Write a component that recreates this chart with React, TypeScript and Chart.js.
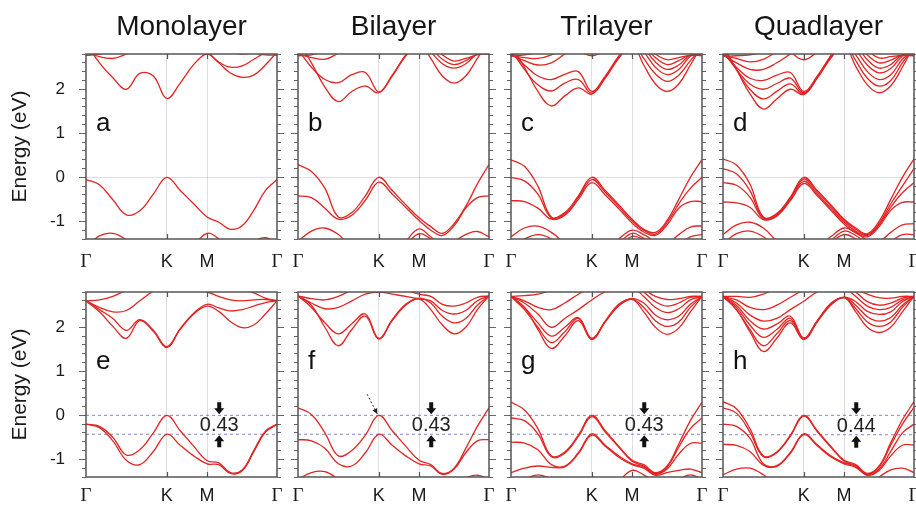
import React, { useEffect, useRef } from "react";
import { Chart, registerables } from "chart.js";

Chart.register(...registerables);
Chart.defaults.font.family = '"Liberation Sans", Arial, sans-serif';
Chart.defaults.color = "#222";

// ---------------- data ----------------
const K_POINTS = [0, 0.111, 0.222, 0.333, 0.444, 0.556, 0.667, 0.778, 0.889, 1.0, 1.096, 1.192, 1.289, 1.385, 1.481, 1.577];
const X_TICK_VALUES = [0, 0.667, 1.0, 1.577];
const X_TICK_LABELS = ["Γ", "K", "M", "Γ"];
const Y_MIN = -1.4;
const Y_MAX = 2.8;
const Y_STEP = 0.2;
const COLUMN_TITLES = ["Monolayer", "Bilayer", "Trilayer", "Quadlayer"];
const PANEL_LETTERS = ["a", "b", "c", "d", "e", "f", "g", "h"];
const GAP_VALUES = [0.43, 0.43, 0.43, 0.44];
const GAP_LABELS = ["0.43", "0.43", "0.43", "0.44"];
const GAP_MARK_K = 1.1;
const POINTER_FROM = [0.57, 0.48];
const POINTER_TO = [0.655, 0.03];

// Monolayer (top)
const BANDS_A = [
  [-0.05, -0.17, -0.51, -0.85, -0.76, -0.38, 0.0, -0.3, -0.6, -0.9, -1.02, -1.18, -1.1, -0.75, -0.3, -0.05],
  [-1.6, -1.33, -1.27, -1.42, -1.75, -2.0, -2.1, -1.9, -1.55, -1.27, -1.4, -1.7, -1.65, -1.45, -1.37, -1.5],
  [3.05, 2.6, 2.26, 2.0, 2.36, 2.3, 1.79, 2.14, 2.56, 2.8, 2.6, 2.37, 2.27, 2.32, 2.55, 2.85],
  [2.85, 2.74, 2.7, 2.8, 3.0, 3.2, 3.3, 3.2, 3.0, 2.85, 2.62, 2.5, 2.53, 2.68, 2.83, 2.95],
  [2.77, 2.8, 2.9, 3.1, 3.3, 3.4, 3.4, 3.4, 3.3, 3.1, 2.95, 2.85, 2.8, 2.82, 2.78, 2.77],
];
// Bilayer (top)
const BANDS_B = [
  [0.29, 0.13, -0.25, -0.9, -0.8, -0.42, 0.0, -0.3, -0.62, -0.92, -1.12, -1.27, -1.05, -0.66, -0.15, 0.29],
  [-0.42, -0.46, -0.7, -0.95, -0.86, -0.52, -0.11, -0.38, -0.68, -0.98, -1.2, -1.32, -1.1, -0.7, -0.46, -0.42],
  [-1.45, -1.22, -1.15, -1.3, -1.6, -1.85, -1.95, -1.75, -1.45, -1.17, -1.35, -1.52, -1.45, -1.3, -1.23, -1.35],
  [-1.7, -1.5, -1.45, -1.6, -1.9, -2.1, -2.2, -1.9, -1.55, -1.28, -1.4, -1.6, -1.7, -1.6, -1.5, -1.6],
  [3.1, 2.6, 2.05, 1.72, 1.95, 2.07, 1.92, 2.3, 2.75, 3.05, 2.7, 2.3, 2.14, 2.3, 2.7, 3.1],
  [2.9, 2.5, 2.22, 2.15, 2.33, 2.38, 1.94, 2.32, 2.78, 3.1, 2.85, 2.58, 2.48, 2.58, 2.82, 3.0],
  [2.8, 2.72, 2.68, 2.82, 3.0, 3.15, 3.2, 3.2, 3.2, 3.2, 2.95, 2.68, 2.56, 2.65, 2.8, 2.9],
  [2.76, 2.78, 2.88, 3.05, 3.2, 3.3, 3.3, 3.3, 3.3, 3.3, 3.05, 2.78, 2.64, 2.7, 2.78, 2.8],
];
// Trilayer (top)
const BANDS_C = [
  [0.4, 0.25, -0.2, -0.9, -0.8, -0.42, 0.0, -0.3, -0.62, -0.95, -1.18, -1.25, -0.98, -0.5, 0.0, 0.4],
  [0.0, -0.08, -0.38, -0.92, -0.83, -0.46, -0.05, -0.34, -0.66, -0.99, -1.2, -1.29, -1.03, -0.6, -0.25, 0.0],
  [-0.53, -0.55, -0.7, -0.95, -0.86, -0.5, -0.12, -0.4, -0.71, -1.04, -1.24, -1.32, -1.08, -0.7, -0.55, -0.55],
  [-1.35, -1.15, -1.11, -1.25, -1.5, -1.75, -1.85, -1.65, -1.4, -1.2, -1.3, -1.45, -1.5, -1.3, -1.13, -1.1],
  [-1.6, -1.4, -1.3, -1.4, -1.7, -1.9, -2.0, -1.8, -1.5, -1.27, -1.38, -1.5, -1.6, -1.5, -1.35, -1.3],
  [-1.9, -1.7, -1.55, -1.6, -1.8, -2.0, -2.1, -1.9, -1.6, -1.34, -1.42, -1.6, -1.75, -1.7, -1.55, -1.5],
  [3.0, 2.5, 1.95, 1.62, 1.85, 2.03, 1.89, 2.25, 2.7, 3.0, 2.55, 2.12, 1.95, 2.12, 2.55, 3.0],
  [2.9, 2.45, 2.1, 1.96, 2.14, 2.22, 1.91, 2.27, 2.72, 3.05, 2.7, 2.35, 2.18, 2.32, 2.65, 2.95],
  [2.82, 2.55, 2.3, 2.22, 2.34, 2.4, 1.95, 2.3, 2.75, 3.1, 2.85, 2.5, 2.33, 2.45, 2.75, 2.86],
  [2.78, 2.65, 2.55, 2.6, 2.8, 3.0, 3.1, 3.15, 3.2, 3.2, 2.95, 2.62, 2.45, 2.55, 2.78, 2.8],
  [2.76, 2.72, 2.7, 2.78, 2.95, 3.1, 3.2, 3.2, 3.2, 3.2, 3.0, 2.72, 2.56, 2.65, 2.78, 2.78],
  [2.75, 2.78, 2.85, 3.0, 3.2, 3.2, 3.2, 3.2, 3.2, 3.2, 3.05, 2.8, 2.67, 2.72, 2.77, 2.76],
  [3.3, 3.3, 3.3, 3.2, 3.05, 2.88, 2.76, 2.88, 3.05, 3.2, 3.3, 3.3, 3.3, 3.3, 3.3, 3.3],
];
// Quadlayer (top)
const BANDS_D = [
  [0.42, 0.28, -0.15, -0.9, -0.82, -0.45, 0.0, -0.3, -0.62, -0.95, -1.15, -1.28, -1.0, -0.5, 0.0, 0.42],
  [0.2, 0.08, -0.3, -0.92, -0.84, -0.48, -0.04, -0.33, -0.65, -0.98, -1.18, -1.3, -1.05, -0.6, -0.2, 0.2],
  [-0.12, -0.18, -0.45, -0.94, -0.86, -0.5, -0.09, -0.38, -0.7, -1.02, -1.22, -1.32, -1.08, -0.68, -0.35, -0.12],
  [-0.56, -0.58, -0.68, -0.96, -0.88, -0.53, -0.14, -0.42, -0.74, -1.06, -1.26, -1.35, -1.12, -0.75, -0.57, -0.56],
  [-1.3, -1.08, -1.02, -1.15, -1.45, -1.7, -1.8, -1.6, -1.35, -1.15, -1.25, -1.42, -1.45, -1.25, -1.08, -1.05],
  [-1.5, -1.28, -1.22, -1.35, -1.6, -1.85, -1.95, -1.75, -1.45, -1.22, -1.32, -1.5, -1.6, -1.45, -1.3, -1.3],
  [-1.8, -1.6, -1.5, -1.6, -1.8, -2.0, -2.1, -1.85, -1.5, -1.3, -1.4, -1.6, -1.75, -1.65, -1.5, -1.5],
  [3.0, 2.45, 1.9, 1.55, 1.78, 2.0, 1.88, 2.25, 2.7, 3.0, 2.52, 2.1, 1.92, 2.08, 2.5, 3.0],
  [2.95, 2.45, 2.0, 1.78, 1.95, 2.12, 1.9, 2.26, 2.72, 3.05, 2.65, 2.25, 2.07, 2.2, 2.6, 2.95],
  [2.88, 2.45, 2.12, 2.0, 2.13, 2.25, 1.92, 2.28, 2.74, 3.1, 2.78, 2.4, 2.22, 2.33, 2.68, 2.9],
  [2.82, 2.5, 2.25, 2.2, 2.32, 2.38, 1.95, 2.3, 2.76, 3.15, 2.9, 2.55, 2.37, 2.47, 2.75, 2.85],
  [2.78, 2.6, 2.45, 2.45, 2.6, 2.8, 3.0, 3.1, 3.2, 3.2, 3.0, 2.67, 2.48, 2.56, 2.78, 2.8],
  [2.76, 2.7, 2.62, 2.68, 2.85, 3.0, 3.1, 3.2, 3.2, 3.2, 3.05, 2.78, 2.6, 2.66, 2.78, 2.78],
  [2.75, 2.76, 2.78, 2.85, 3.0, 3.2, 3.2, 3.2, 3.2, 3.2, 3.1, 2.88, 2.71, 2.74, 2.77, 2.76],
  [3.3, 3.3, 3.3, 3.3, 3.1, 2.85, 2.67, 2.85, 3.1, 3.3, 3.3, 3.3, 3.3, 3.3, 3.3, 3.3],
];
// Monolayer (bottom)
const BANDS_E = [
  [-0.2, -0.25, -0.5, -0.9, -0.78, -0.4, 0.0, -0.35, -0.7, -1.03, -1.08, -1.3, -1.24, -0.8, -0.36, -0.2],
  [-0.2, -0.28, -0.58, -1.02, -1.12, -0.82, -0.43, -0.68, -0.92, -1.1, -1.12, -1.32, -1.26, -0.83, -0.38, -0.21],
  [2.6, 2.35, 2.02, 1.75, 2.15, 1.91, 1.54, 1.95, 2.3, 2.48, 2.36, 2.13, 1.99, 2.05, 2.3, 2.6],
  [2.6, 2.4, 2.2, 1.93, 2.17, 1.93, 1.56, 1.97, 2.32, 2.52, 2.44, 2.37, 2.4, 2.48, 2.56, 2.6],
  [2.6, 2.45, 2.35, 2.38, 2.6, 2.82, 2.95, 2.95, 2.85, 2.8, 2.7, 2.62, 2.6, 2.62, 2.63, 2.6],
  [2.6, 2.62, 2.7, 2.85, 3.0, 3.1, 3.1, 3.0, 2.9, 2.9, 2.95, 2.9, 2.85, 2.78, 2.66, 2.6],
];
// Bilayer (bottom)
const BANDS_F = [
  [0.17, 0.02, -0.4, -0.92, -0.8, -0.45, 0.0, -0.35, -0.7, -1.02, -1.12, -1.32, -1.2, -0.75, -0.25, 0.17],
  [-0.55, -0.58, -0.75, -1.1, -1.15, -0.85, -0.43, -0.68, -0.92, -1.1, -1.15, -1.34, -1.22, -0.85, -0.58, -0.55],
  [-1.45, -1.3, -1.28, -1.45, -1.7, -1.9, -2.0, -1.9, -1.7, -1.55, -1.6, -1.65, -1.55, -1.42, -1.36, -1.45],
  [2.71, 2.5, 2.0, 1.58, 1.95, 2.25, 1.73, 2.15, 2.5, 2.64, 2.4, 2.05, 1.85, 2.0, 2.4, 2.71],
  [2.71, 2.45, 2.1, 1.85, 2.08, 2.3, 1.75, 2.17, 2.52, 2.66, 2.55, 2.25, 2.1, 2.2, 2.5, 2.71],
  [2.71, 2.55, 2.42, 2.45, 2.6, 2.75, 2.8, 2.75, 2.7, 2.64, 2.6, 2.38, 2.3, 2.38, 2.6, 2.71],
  [2.71, 2.65, 2.62, 2.7, 2.85, 3.0, 3.1, 3.0, 2.85, 2.75, 2.7, 2.52, 2.48, 2.55, 2.68, 2.71],
  [3.3, 3.3, 3.3, 3.3, 3.1, 2.92, 2.79, 2.92, 3.1, 3.3, 3.3, 3.3, 3.3, 3.3, 3.3, 3.3],
];
// Trilayer (bottom)
const BANDS_G = [
  [0.3, 0.12, -0.3, -0.92, -0.83, -0.45, 0.0, -0.35, -0.7, -1.02, -1.12, -1.3, -1.15, -0.65, -0.12, 0.3],
  [-0.06, -0.12, -0.42, -0.94, -0.86, -0.48, -0.03, -0.38, -0.72, -1.04, -1.15, -1.32, -1.18, -0.72, -0.3, -0.06],
  [-0.61, -0.63, -0.78, -1.12, -1.15, -0.85, -0.42, -0.68, -0.92, -1.1, -1.17, -1.34, -1.22, -0.88, -0.64, -0.63],
  [-1.3, -1.2, -1.15, -1.18, -1.17, -0.87, -0.45, -0.7, -0.95, -1.12, -1.2, -1.36, -1.3, -1.25, -1.22, -1.3],
  [-1.6, -1.45, -1.35, -1.45, -1.7, -1.9, -2.0, -1.8, -1.5, -1.25, -1.35, -1.5, -1.55, -1.45, -1.35, -1.45],
  [2.7, 2.45, 1.95, 1.52, 1.8, 2.15, 1.72, 2.12, 2.48, 2.63, 2.35, 2.0, 1.84, 1.98, 2.35, 2.7],
  [2.7, 2.4, 2.0, 1.65, 1.9, 2.2, 1.73, 2.13, 2.5, 2.64, 2.45, 2.15, 2.02, 2.12, 2.45, 2.7],
  [2.7, 2.45, 2.1, 1.8, 2.0, 2.22, 1.75, 2.14, 2.52, 2.65, 2.55, 2.28, 2.17, 2.25, 2.52, 2.7],
  [2.7, 2.55, 2.3, 2.0, 2.2, 2.4, 2.62, 2.8, 2.85, 2.9, 2.7, 2.45, 2.33, 2.42, 2.62, 2.7],
  [2.7, 2.6, 2.45, 2.4, 2.55, 2.75, 2.9, 3.0, 3.0, 3.0, 2.8, 2.58, 2.48, 2.55, 2.68, 2.7],
  [2.7, 2.72, 2.75, 2.85, 3.0, 3.1, 3.1, 3.1, 3.0, 2.9, 2.85, 2.7, 2.63, 2.65, 2.7, 2.7],
];
// Quadlayer (bottom)
const BANDS_H = [
  [0.31, 0.15, -0.3, -0.92, -0.83, -0.45, 0.0, -0.35, -0.7, -1.02, -1.12, -1.32, -1.15, -0.62, -0.1, 0.31],
  [0.17, 0.05, -0.38, -0.94, -0.85, -0.47, -0.02, -0.37, -0.72, -1.04, -1.14, -1.33, -1.17, -0.68, -0.2, 0.18],
  [-0.2, -0.25, -0.52, -1.1, -1.14, -0.84, -0.42, -0.67, -0.92, -1.08, -1.16, -1.35, -1.22, -0.82, -0.4, -0.2],
  [-0.66, -0.68, -0.82, -1.13, -1.16, -0.86, -0.44, -0.69, -0.94, -1.1, -1.18, -1.36, -1.25, -0.92, -0.68, -0.67],
  [-1.35, -1.22, -1.2, -1.35, -1.6, -1.85, -1.95, -1.8, -1.65, -1.6, -1.7, -1.6, -1.4, -1.24, -1.2, -1.3],
  [2.7, 2.4, 1.9, 1.45, 1.75, 2.1, 1.72, 2.12, 2.5, 2.67, 2.35, 2.0, 1.88, 2.0, 2.35, 2.7],
  [2.7, 2.4, 1.95, 1.58, 1.85, 2.15, 1.73, 2.13, 2.52, 2.67, 2.42, 2.12, 2.02, 2.12, 2.45, 2.7],
  [2.7, 2.45, 2.05, 1.77, 1.95, 2.2, 1.74, 2.14, 2.53, 2.68, 2.5, 2.24, 2.14, 2.22, 2.5, 2.7],
  [2.7, 2.5, 2.15, 1.96, 2.07, 2.25, 1.76, 2.15, 2.54, 2.68, 2.58, 2.36, 2.29, 2.35, 2.58, 2.7],
  [2.7, 2.55, 2.28, 2.14, 2.2, 2.4, 2.59, 2.8, 2.9, 2.9, 2.7, 2.48, 2.4, 2.45, 2.62, 2.7],
  [2.7, 2.62, 2.45, 2.4, 2.5, 2.68, 2.85, 3.0, 3.0, 3.0, 2.8, 2.58, 2.5, 2.55, 2.66, 2.7],
  [2.7, 2.7, 2.68, 2.75, 2.9, 3.05, 3.1, 3.1, 3.05, 2.95, 2.85, 2.75, 2.67, 2.66, 2.7, 2.7],
];

const PANEL_BANDS = [BANDS_A, BANDS_B, BANDS_C, BANDS_D, BANDS_E, BANDS_F, BANDS_G, BANDS_H];

// ---------------- layout / style ----------------
const PLOT_LEFT = [86, 298, 511, 723];
const PLOT_W = 191;
const ROW_GEOM = [
  { canvasTop: 0, padTop: 0, bottomSpace: 33, height: 272, labelPad: 12 },
  { canvasTop: 265, padTop: 27, bottomSpace: 29, height: 241, labelPad: 8 },
];
const RED = "rgb(226, 36, 36)";
const SANS = '"Liberation Sans", Arial, sans-serif';
const SERIF = '"Liberation Serif", "Times New Roman", serif';

function drawBlockArrow(ctx: CanvasRenderingContext2D, x: number, tipY: number, dir: number) {
  const len = 12, headLen = 6, headW = 5, shaftW = 2;
  const baseY = tipY - dir * len;
  const neckY = tipY - dir * headLen;
  ctx.beginPath();
  ctx.moveTo(x - shaftW, baseY);
  ctx.lineTo(x + shaftW, baseY);
  ctx.lineTo(x + shaftW, neckY);
  ctx.lineTo(x + headW, neckY);
  ctx.lineTo(x, tipY);
  ctx.lineTo(x - headW, neckY);
  ctx.lineTo(x - shaftW, neckY);
  ctx.closePath();
  ctx.fill();
}

function BandPanel({ index }: { index: number }) {
  const ref = useRef<HTMLCanvasElement | null>(null);
  const row = Math.floor(index / 4);
  const col = index % 4;
  const g = ROW_GEOM[row];
  const L = col === 0 ? 86 : 10;
  const R = col === 3 ? 2 : 10;
  const width = L + PLOT_W + R;
  const left = PLOT_LEFT[col] - L;

  useEffect(() => {
    const canvas = ref.current;
    if (!canvas) return;
    const bands = PANEL_BANDS[index];
    const gap = row === 1 ? GAP_VALUES[col] : null;
    const kFirst = K_POINTS[0];
    const kLast = K_POINTS[K_POINTS.length - 1];
    const isInt = (v: number) => Math.abs(v - Math.round(v)) < 1e-6;

    const datasets: any[] = bands.map((b) => ({
      data: K_POINTS.map((k, i) => ({ x: k, y: b[i] })),
      borderColor: RED,
      borderWidth: 1.3,
      pointRadius: 0,
      fill: false,
      tension: 0.4,
      clip: 0,
    }));
    if (gap !== null) {
      [0, -gap].forEach((v) =>
        datasets.push({
          data: [{ x: kFirst, y: v }, { x: kLast, y: v }],
          borderColor: "rgba(95,105,195,0.8)",
          borderWidth: 1,
          borderDash: [3, 3],
          pointRadius: 0,
          fill: false,
          clip: 0,
        })
      );
    }

    const decor = {
      id: "decor",
      afterDraw(chart: any) {
        const { ctx, chartArea: a, scales } = chart;
        const xs = scales.x;
        const ys = scales.y;
        ctx.save();
        // longer outer ticks at integer energies (both sides)
        ctx.strokeStyle = "#666";
        ctx.lineWidth = 1;
        ys.ticks.forEach((t: any) => {
          if (!isInt(t.value)) return;
          const py = Math.round(ys.getPixelForValue(t.value)) + 0.5;
          ctx.beginPath();
          ctx.moveTo(a.left - 7, py);
          ctx.lineTo(a.left, py);
          ctx.moveTo(a.right, py);
          ctx.lineTo(a.right + 7, py);
          ctx.stroke();
        });
        // inner ticks at K and M
        ctx.strokeStyle = "#555";
        ctx.lineWidth = 1.2;
        [X_TICK_VALUES[1], X_TICK_VALUES[2]].forEach((v) => {
          const px = Math.round(xs.getPixelForValue(v)) + 0.5;
          ctx.beginPath();
          ctx.moveTo(px, a.top);
          ctx.lineTo(px, a.top + 5);
          ctx.moveTo(px, a.bottom);
          ctx.lineTo(px, a.bottom - 5);
          ctx.stroke();
        });
        // frame
        ctx.lineWidth = 1.5;
        ctx.strokeStyle = "#555";
        ctx.strokeRect(a.left, a.top, a.right - a.left, a.bottom - a.top);
        // panel letter
        ctx.fillStyle = "#111";
        ctx.font = `26px ${SANS}`;
        ctx.textAlign = "left";
        ctx.textBaseline = "alphabetic";
        ctx.fillText(PANEL_LETTERS[index], a.left + 10, a.top + 77);
        if (gap !== null) {
          const gx = xs.getPixelForValue(GAP_MARK_K);
          const y0 = ys.getPixelForValue(0);
          const y1 = ys.getPixelForValue(-gap);
          ctx.fillStyle = "#111";
          drawBlockArrow(ctx, gx, y0 - 1, 1);
          drawBlockArrow(ctx, gx, y1 + 1, -1);
          ctx.fillStyle = "#222";
          ctx.font = `20px ${SANS}`;
          ctx.textAlign = "center";
          ctx.textBaseline = "middle";
          ctx.fillText(GAP_LABELS[col], gx, (y0 + y1) / 2 + 1);
          if (col === 1) {
            const x0 = xs.getPixelForValue(POINTER_FROM[0]);
            const yA = ys.getPixelForValue(POINTER_FROM[1]);
            const x1 = xs.getPixelForValue(POINTER_TO[0]);
            const yB = ys.getPixelForValue(POINTER_TO[1]);
            ctx.strokeStyle = "#333";
            ctx.lineWidth = 1;
            ctx.setLineDash([2, 2]);
            ctx.beginPath();
            ctx.moveTo(x0, yA);
            ctx.lineTo(x1, yB);
            ctx.stroke();
            ctx.setLineDash([]);
            const ang = Math.atan2(yB - yA, x1 - x0);
            ctx.fillStyle = "#222";
            ctx.beginPath();
            ctx.moveTo(x1, yB);
            ctx.lineTo(x1 - 6 * Math.cos(ang - 0.45), yB - 6 * Math.sin(ang - 0.45));
            ctx.lineTo(x1 - 6 * Math.cos(ang + 0.45), yB - 6 * Math.sin(ang + 0.45));
            ctx.closePath();
            ctx.fill();
          }
        }
        ctx.restore();
      },
    };

    const chart = new Chart(canvas, {
      type: "line",
      data: { datasets },
      plugins: [decor],
      options: {
        responsive: false,
        animation: false,
        devicePixelRatio: 1,
        events: [],
        layout: { padding: { top: g.padTop, left: 0, right: 0, bottom: 0 } },
        plugins: {
          legend: { display: false },
          tooltip: { enabled: false },
          title: {
            display: row === 0,
            text: COLUMN_TITLES[col],
            fullSize: false,
            padding: { top: 10, bottom: 10.4 },
            color: "#151515",
            font: { size: 28, weight: "normal", family: SANS },
          },
        },
        scales: {
          x: {
            type: "linear",
            position: "bottom",
            min: kFirst,
            max: kLast,
            afterBuildTicks: (s: any) => {
              s.ticks = X_TICK_VALUES.map((v) => ({ value: v }));
            },
            afterFit: (s: any) => {
              s.height = g.bottomSpace;
              s.paddingLeft = 0;
              s.paddingRight = 0;
            },
            border: { display: false },
            grid: {
              drawTicks: false,
              lineWidth: 1,
              color: (c: any) => (c.index === 1 || c.index === 2 ? "rgba(0,0,0,0.13)" : "rgba(0,0,0,0)"),
            },
            ticks: {
              autoSkip: false,
              maxRotation: 0,
              padding: g.labelPad,
              color: "#1a1a1a",
              callback: (_v: any, i: number) => X_TICK_LABELS[i],
              font: (c: any) =>
                c.index === 0 || c.index === 3
                  ? { family: SERIF, size: 19 }
                  : { family: SANS, size: 18 },
            },
          },
          y: {
            type: "linear",
            position: "left",
            min: Y_MIN,
            max: Y_MAX,
            afterFit: (s: any) => {
              s.width = L;
              s.paddingTop = 0;
              s.paddingBottom = 0;
            },
            border: { display: false },
            grid: {
              drawTicks: true,
              tickLength: 4,
              tickColor: "#666",
              color: (c: any) =>
                row === 0 && c.tick && Math.abs(c.tick.value) < 1e-6 ? "rgba(0,0,0,0.12)" : "rgba(0,0,0,0)",
            },
            ticks: {
              stepSize: Y_STEP,
              maxTicksLimit: 100,
              autoSkip: false,
              padding: 17,
              color: "#1a1a1a",
              font: { size: 17, family: SANS },
              callback: (v: any) => (col === 0 && isInt(Number(v)) ? String(Math.round(Number(v))) : ""),
            },
            title: {
              display: col === 0,
              text: "Energy (eV)",
              color: "#1a1a1a",
              font: { size: 21, family: SANS },
              padding: { top: 7.5, bottom: 0 },
            },
          },
          y2: {
            type: "linear",
            position: "right",
            min: Y_MIN,
            max: Y_MAX,
            afterFit: (s: any) => {
              s.width = R;
              s.paddingTop = 0;
              s.paddingBottom = 0;
            },
            border: { display: false },
            grid: { drawOnChartArea: false, drawTicks: true, tickLength: 4, tickColor: "#666" },
            ticks: {
              stepSize: Y_STEP,
              maxTicksLimit: 100,
              autoSkip: false,
              padding: 0,
              callback: () => "",
            },
          },
        },
      } as any,
    });
    return () => chart.destroy();
  }, []);

  return (
    <canvas
      ref={ref}
      width={width}
      height={g.height}
      style={{ position: "absolute", left, top: g.canvasTop, width, height: g.height }}
    />
  );
}

export default function App() {
  return (
    <div
      style={{
        position: "absolute",
        left: 0,
        top: 0,
        width: 916,
        height: 506,
        overflow: "hidden",
        background: "#fff",
      }}
    >
      {PANEL_BANDS.map((_, i) => (
        <BandPanel key={i} index={i} />
      ))}
    </div>
  );
}
